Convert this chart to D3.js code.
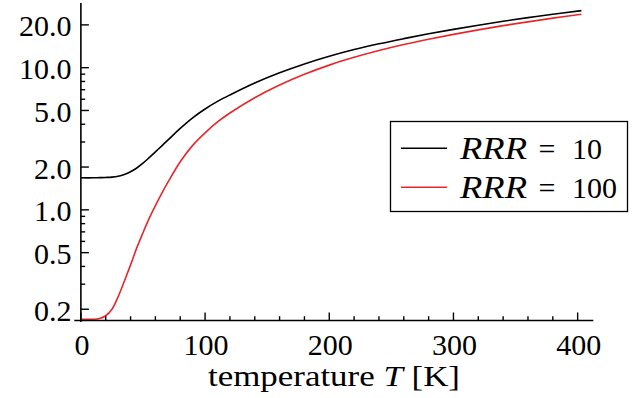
<!DOCTYPE html>
<html><head><meta charset="utf-8">
<script src="https://cdn.jsdelivr.net/npm/d3@7"></script>
<style>
html,body{margin:0;padding:0;background:#fff;}
svg{display:block;}
</style></head>
<body>
<svg id="chart" width="632" height="398"></svg>
<script>
// temperature grid [K]
const temperature = [0,10,15,20,25,30,35,40,45,50,55,60,65,70,80,90,100,110,120,140,160,180,200,220,240,260,280,300,320,340,360,380,403];
// resistivity, RRR = 10
const rhoRRR10 = [1.68,1.68,1.685,1.69,1.70,1.725,1.775,1.855,1.97,2.13,2.33,2.56,2.81,3.09,3.74,4.44,5.12,5.79,6.43,7.80,9.20,10.62,12.02,13.4,14.72,16.0,17.3,18.6,19.9,21.2,22.5,23.75,25.2];
// resistivity, RRR = 100
const rhoRRR100 = [0.17,0.17,0.172,0.18,0.20,0.245,0.315,0.41,0.54,0.69,0.87,1.07,1.30,1.56,2.18,2.84,3.48,4.15,4.80,6.15,7.55,8.98,10.42,11.82,13.2,14.55,15.85,17.15,18.45,19.75,21.0,22.3,23.75];
const seriesNames = ["10","100"];
const xMajorTicks = [0,100,200,300,400];
const xMinorTicks = [20,40,60,80,120,140,160,180,220,240,260,280,320,340,360,380];
const yMajorTicks = [0.2,0.5,1,2,5,10,20];
const yMajorLabels = ["0.2","0.5","1.0","2.0","5.0","10.0","20.0"];
const yMinorTicks = [0.3,0.4,0.6,0.7,0.8,0.9,3,4,6,7,8,9];
const xLabel = "temperature ";

const FONT = "'Liberation Serif', 'DejaVu Serif', 'Noto Serif', serif";
const svg = d3.select("#chart");
const x = d3.scaleLinear().domain([-5.3, 412.6]).range([74.3, 593.3]);
const y = d3.scaleLog().domain([0.168, 28.5]).range([320, 3]);
const x0 = x(0);
const axisY = 320.5;

svg.append("defs").append("clipPath").attr("id","clip")
  .append("rect").attr("x",74).attr("y",2).attr("width",520).attr("height",318.5);

const data10 = temperature.map((t,i)=>[t, rhoRRR10[i]]);
const data100 = temperature.map((t,i)=>[t, rhoRRR100[i]]);
const line = d3.line().x(d=>x(d[0])).y(d=>y(d[1])).curve(d3.curveCatmullRom.alpha(0.5));
const colors = ["#000000", "#e8272a"];

const g = svg.append("g").attr("clip-path","url(#clip)");
g.append("path").datum(data10).attr("d",line).attr("fill","none").attr("stroke",colors[0]).attr("stroke-width",1.6);
g.append("path").datum(data100).attr("d",line).attr("fill","none").attr("stroke",colors[1]).attr("stroke-width",1.6);

// axes lines
svg.append("line").attr("x1",x.range()[0]).attr("x2",x.range()[1]).attr("y1",axisY).attr("y2",axisY)
  .attr("stroke","#000").attr("stroke-width",1.6);
svg.append("line").attr("x1",x0).attr("x2",x0).attr("y1",3).attr("y2",322)
  .attr("stroke","#000").attr("stroke-width",1.6);

// x ticks
svg.selectAll(".xmaj").data(xMajorTicks).enter().append("line")
  .attr("x1",d=>x(d)).attr("x2",d=>x(d)).attr("y1",axisY).attr("y2",axisY-8)
  .attr("stroke","#000").attr("stroke-width",1.4);
svg.selectAll(".xmin").data(xMinorTicks).enter().append("line")
  .attr("x1",d=>x(d)).attr("x2",d=>x(d)).attr("y1",axisY).attr("y2",axisY-4.3)
  .attr("stroke","#000").attr("stroke-width",1.4);
svg.selectAll(".xlab").data(xMajorTicks).enter().append("text")
  .attr("font-family",FONT)
  .attr("x",d=>x(d)+1).attr("y",354.5).attr("text-anchor","middle")
  .attr("font-size",30).text(d=>String(d));

// y ticks
svg.selectAll(".ymaj").data(yMajorTicks).enter().append("line")
  .attr("x1",x0).attr("x2",x0+8).attr("y1",d=>y(d)).attr("y2",d=>y(d))
  .attr("stroke","#000").attr("stroke-width",1.4);
svg.selectAll(".ymin").data(yMinorTicks).enter().append("line")
  .attr("x1",x0).attr("x2",x0+4.3).attr("y1",d=>y(d)).attr("y2",d=>y(d))
  .attr("stroke","#000").attr("stroke-width",1.4);
svg.selectAll(".ylab").data(yMajorTicks).enter().append("text")
  .attr("font-family",FONT)
  .attr("x",71.5).attr("y",d=>y(d)+11.5).attr("text-anchor","end")
  .attr("font-size",30).text((d,i)=>yMajorLabels[i]);

// x label
const xl = svg.append("text").attr("font-family",FONT).attr("x",208).attr("y",386)
  .attr("font-size",30).attr("textLength",252).attr("lengthAdjust","spacingAndGlyphs");
xl.append("tspan").text(xLabel);
xl.append("tspan").attr("font-style","italic").text("T");
xl.append("tspan").text(" [K]");

// legend
const lg = svg.append("g");
lg.append("rect").attr("x",390.5).attr("y",121.5).attr("width",237).attr("height",90)
  .attr("fill","#fff").attr("stroke","#000").attr("stroke-width",1.3);
const rowsY = [148.3, 187.3];
seriesNames.forEach((name,i)=>{
  lg.append("line").attr("x1",401).attr("x2",447).attr("y1",rowsY[i]).attr("y2",rowsY[i])
    .attr("stroke",colors[i]).attr("stroke-width",1.6);
  const t = lg.append("text").attr("font-family",FONT).attr("y",rowsY[i]+10.5).attr("font-size",30);
  t.append("tspan").attr("x",460).attr("font-style","italic").attr("font-size",31)
    .attr("textLength",67).attr("lengthAdjust","spacingAndGlyphs").text("RRR");
  t.append("tspan").attr("x",547).attr("text-anchor","middle").text("=");
  t.append("tspan").attr("x",572).text(name);
});
</script>
</body></html>
